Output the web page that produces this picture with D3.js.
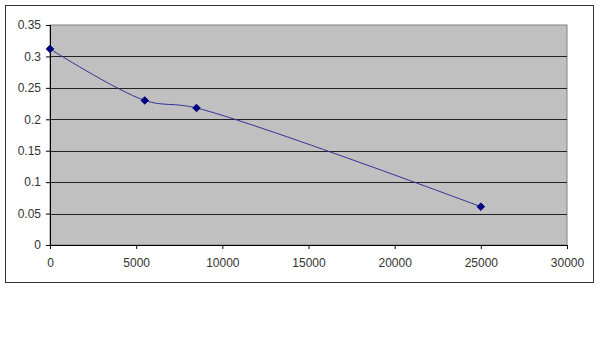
<!DOCTYPE html>
<html>
<head>
<meta charset="UTF-8">
<title>Line chart</title>
<style>
  body { margin: 0; background: #fff; }
  svg { display: block; font-family: "Liberation Sans", Arial, sans-serif; }
  .eixo text { fill: #333; font-size: 12px; }
  .eixo path, .eixo line { stroke: #000; }
</style>
<script src="https://d3js.org/d3.v7.min.js"></script>
</head>
<body>
<svg id="grafico" width="600" height="359"></svg>
<script>
  // series
  const xValues = [0, 5500, 8500, 25000];
  const yValues = [0.312, 0.230, 0.218, 0.061];
  const xTicks = [0, 5000, 10000, 15000, 20000, 25000, 30000];
  const yTicks = [0, 0.05, 0.1, 0.15, 0.2, 0.25, 0.3, 0.35];

  const svg = d3.select('#grafico');
  const plot = { left: 50, right: 567, top: 25, bottom: 245 };

  // outer chart frame
  svg.append('rect')
    .attr('x', 5.5).attr('y', 5.5)
    .attr('width', 588).attr('height', 277)
    .attr('fill', '#fff').attr('stroke', '#333').attr('stroke-width', 1);

  const fnX = d3.scaleLinear().domain([0, 30000]).range([plot.left, plot.right]);
  const fnY = d3.scaleLinear().domain([0, 0.35]).range([plot.bottom, plot.top]);

  // plot background
  svg.append('rect')
    .attr('x', plot.left).attr('y', plot.top)
    .attr('width', plot.right - plot.left).attr('height', plot.bottom - plot.top)
    .attr('fill', '#c0c0c0').attr('stroke', '#808080');

  // gridlines
  svg.selectAll('.grade')
    .data(yTicks.filter(d => d > 0 && d < 0.35))
    .enter().append('line')
    .attr('x1', plot.left).attr('x2', plot.right)
    .attr('y1', d => Math.round(fnY(d)) + 0.5)
    .attr('y2', d => Math.round(fnY(d)) + 0.5)
    .attr('stroke', '#222');

  // axes
  svg.append('g')
    .attr('class', 'eixo')
    .attr('transform', `translate(${plot.left},0)`)
    .call(d3.axisLeft(fnY).tickValues(yTicks).tickSize(4).tickPadding(5)
      .tickFormat(d => String(+d.toFixed(2))));

  svg.append('g')
    .attr('class', 'eixo')
    .attr('transform', `translate(0,${plot.bottom})`)
    .call(d3.axisBottom(fnX).tickValues(xTicks).tickSize(4).tickPadding(9)
      .tickFormat(d => String(d)));

  const pontos = xValues.map((x, i) => [x, yValues[i]]);

  // smoothed line, like the spreadsheet original
  const linha = d3.line()
    .x(d => fnX(d[0]))
    .y(d => fnY(d[1]))
    .curve(d3.curveCatmullRom.alpha(0.5));

  svg.append('path')
    .datum(pontos)
    .attr('d', linha)
    .attr('fill', 'none')
    .attr('stroke', '#333399')
    .attr('stroke-width', 1);

  svg.selectAll('.marca')
    .data(pontos)
    .enter().append('path')
    .attr('d', d3.symbol(d3.symbolDiamond2, 36))
    .attr('transform', d => `translate(${fnX(d[0])},${fnY(d[1])})`)
    .attr('fill', '#000080')
    .attr('stroke', '#000080');
</script>
</body>
</html>
